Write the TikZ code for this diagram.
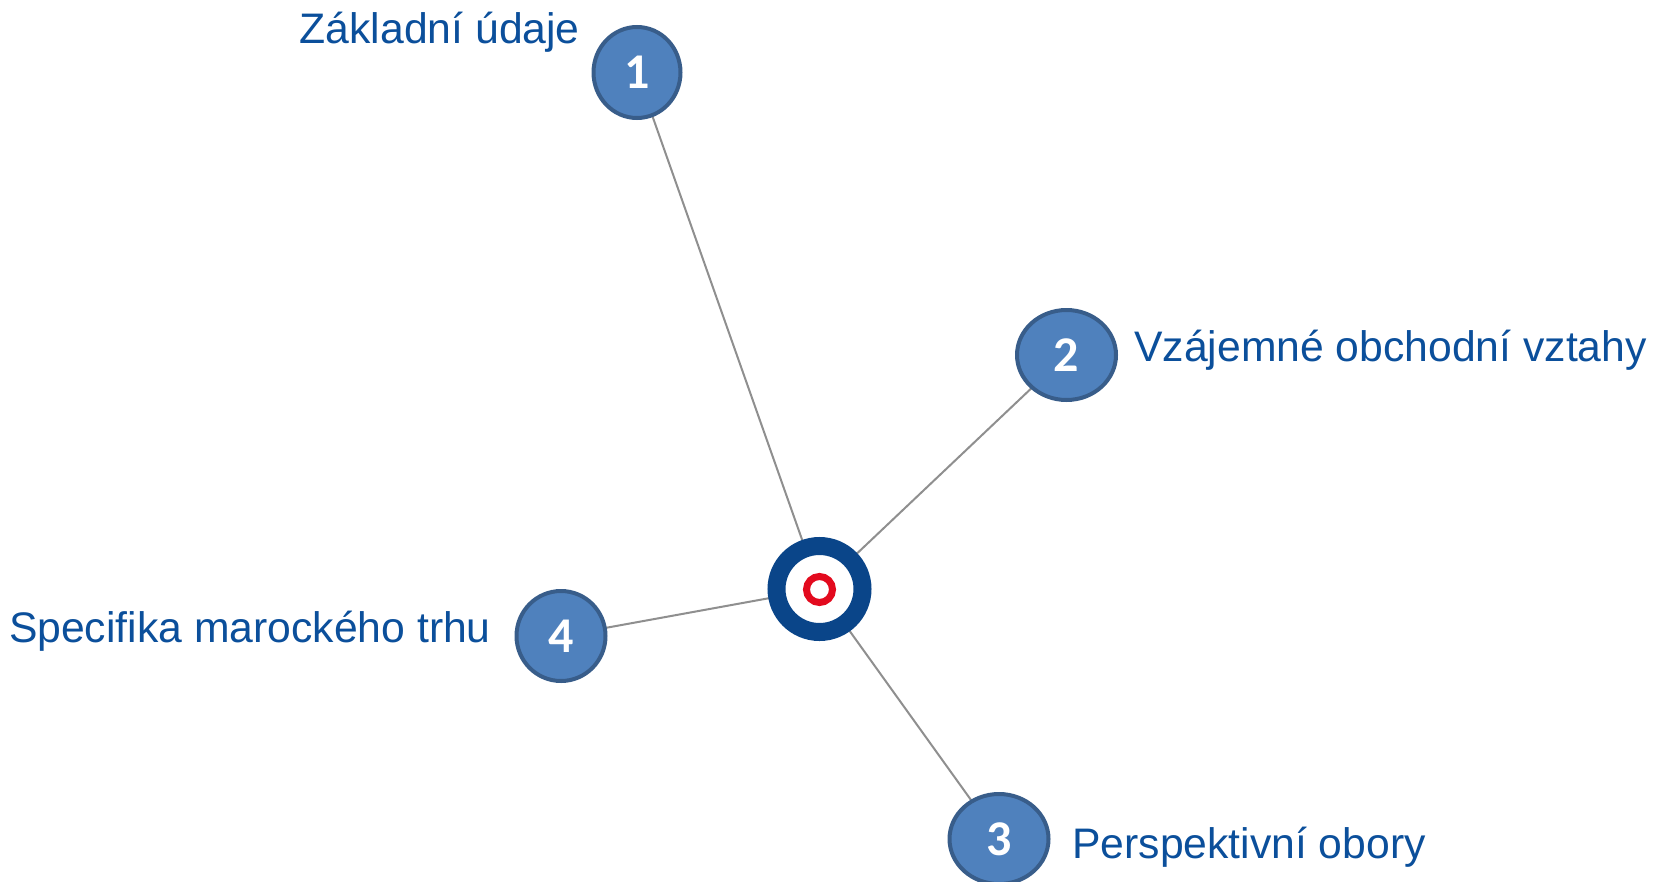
\documentclass[tikz,border=0pt]{standalone}
\usepackage{fontspec}
\setmainfont{Liberation Sans}
\newfontfamily\numfont{Carlito}
\usetikzlibrary{shapes.geometric,backgrounds}
\definecolor{nodefill}{HTML}{4F81BD}
\definecolor{nodeedge}{HTML}{385D8A}
\definecolor{labelblue}{HTML}{0B4F9B}
\definecolor{ringblue}{HTML}{0A4589}
\definecolor{ringred}{HTML}{E30A1E}
\definecolor{linkgray}{HTML}{8F8F8F}
\tikzset{
  numnode/.style={ellipse, draw=nodeedge, fill=nodefill, line width=4pt, inner sep=0pt,
    text=white, font=\numfont\bfseries\fontsize{50}{56}\selectfont},
  lbl/.style={text=labelblue, font=\fontsize{42.7}{50}\selectfont, inner sep=0pt},
  link/.style={draw=linkgray, line width=2pt}
}
\begin{document}
\begin{tikzpicture}[x=1pt,y=-1pt]
\useasboundingbox (0,0) rectangle (1654,881);
% center target
\node[circle, draw=ringblue, line width=18pt, fill=white, minimum size=86pt, inner sep=0pt] (c) at (819.5,589) {};
\node[circle, draw=ringred, line width=7pt, fill=white, minimum size=26pt, inner sep=0pt] (cr) at (819.5,589.5) {};
% numbered nodes
\node[numnode, minimum width=87pt, minimum height=91pt] (n1) at (637,72.5) {1};
\node[numnode, minimum width=99pt, minimum height=90pt] (n2) at (1066.5,355) {2};
\node[numnode, minimum width=99pt, minimum height=90pt] (n3) at (999,839) {3};
\node[numnode, minimum width=89pt, minimum height=90pt] (n4) at (561,636) {4};
% labels
\node[lbl, anchor=base east] (l1) at (580,43) {Základní údaje};
\node[lbl, anchor=base west] (l2) at (1134,361) {Vzájemné obchodní vztahy};
\node[lbl, anchor=base west] (l3) at (1072,858) {Perspektivní obory};
\node[lbl, anchor=base east] (l4) at (491,642) {Specifika marockého trhu};
% links
\begin{pgfonlayer}{background}
\draw[link] (c.center) -- (n1.center);
\draw[link] (c.center) -- (n2.center);
\draw[link] (c.center) -- (n3.center);
\draw[link] (c.center) -- (n4.center);
\end{pgfonlayer}
\end{tikzpicture}
\end{document}
